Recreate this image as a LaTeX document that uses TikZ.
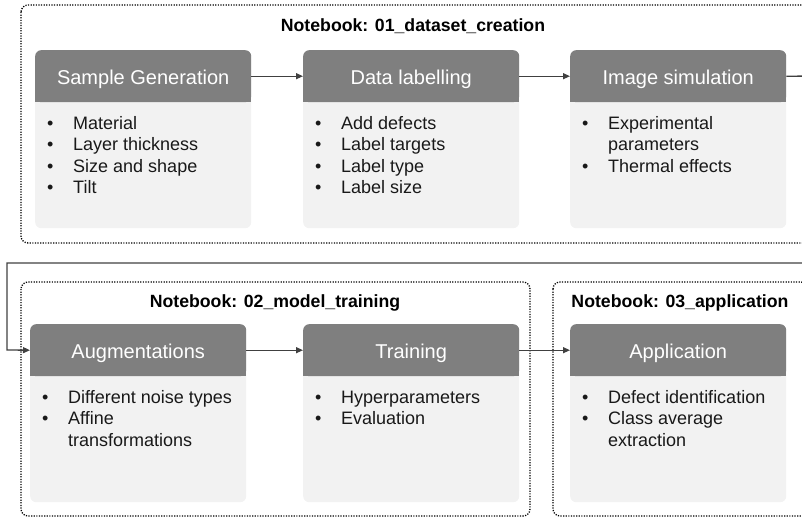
\documentclass[tikz,border=0pt]{standalone}
\usepackage{fontspec}
\setmainfont{Liberation Sans}
\usetikzlibrary{arrows.meta}
\definecolor{hdr}{HTML}{7F7F7F}
\definecolor{bodyc}{HTML}{F2F2F2}
\definecolor{arr}{HTML}{404040}
\newcommand\stagebox[5]{%
  \node[bodybox] (#1b) at (#2,#3) {};
  \node[headbox] (#1) at (#1b.north) {#4};
  \fill[hdr] ([yshift=8pt]#1.south west) rectangle (#1.south east);
  \node[listtext] (#1l) at ([xshift=12pt,yshift=-79pt]#1b.north west)
    {\begin{tabular}[t]{@{}p{26pt}@{}l@{}}#5\end{tabular}};
}
\begin{document}
\begin{tikzpicture}[x=1pt,y=-1pt,
  frame/.style={draw=black, line width=1.3pt, dash pattern=on 1.2pt off 1.4pt, rounded corners=7pt},
  bodybox/.style={fill=bodyc, rounded corners=6pt, minimum width=216pt, minimum height=178pt, inner sep=0pt, anchor=north west},
  headbox/.style={fill=hdr, rounded corners=6pt, minimum width=216pt, minimum height=52pt, inner sep=0pt, anchor=north, text=white, text height=17pt, text depth=0pt, font=\fontsize{20}{23}\selectfont},
  listtext/.style={anchor=base west, inner sep=0pt, font=\fontsize{18}{21.6}\selectfont, text=black!90},
  title/.style={font=\bfseries\fontsize{17.7}{21}\selectfont, anchor=base, inner sep=0pt},
  conn/.style={draw=arr, line width=1.3pt, -{Triangle[length=7pt,width=6pt]}}
]
\useasboundingbox (0,0) rectangle (802,519);
\clip (0,0) rectangle (802,519);

% frames
\draw[frame] (21,5) rectangle (830,243);
\draw[frame] (21,282) rectangle (530,516);
\draw[frame] (553,282) rectangle (808,516);

% titles
\node[title] (t1) at (413,32) {Notebook: 01\_dataset\_creation};
\node[title] (t2) at (275,307) {Notebook: 02\_model\_training};
\node[title] (t3) at (680,307) {Notebook: 03\_application};

% row 1
\stagebox{sg}{35}{50}{Sample Generation}{%
  • & Material\\ • & Layer thickness\\ • & Size and shape\\ • & Tilt}
\stagebox{dl}{303}{50}{Data labelling}{%
  • & Add defects\\ • & Label targets\\ • & Label type\\ • & Label size}
\stagebox{ims}{570}{50}{Image simulation}{%
  • & Experimental\\ & parameters\\ • & Thermal effects}

% row 2
\stagebox{aug}{30}{324}{Augmentations}{%
  • & Different noise types\\ • & Affine\\ & transformations}
\stagebox{tr}{303}{324}{Training}{%
  • & Hyperparameters\\ • & Evaluation}
\stagebox{app}{570}{324}{Application}{%
  • & Defect identification\\ • & Class average\\ & extraction}

% connectors
\draw[conn] (sg.east) -- (dl.west);
\draw[conn] (dl.east) -- (ims.west);
\draw[conn] (ims.east) -- (830,76) -- (830,263) -- (7,263) -- (7,350) -- (aug.west);
\draw[conn] (aug.east) -- (tr.west);
\draw[conn] (tr.east) -- (app.west);
\end{tikzpicture}
\end{document}
